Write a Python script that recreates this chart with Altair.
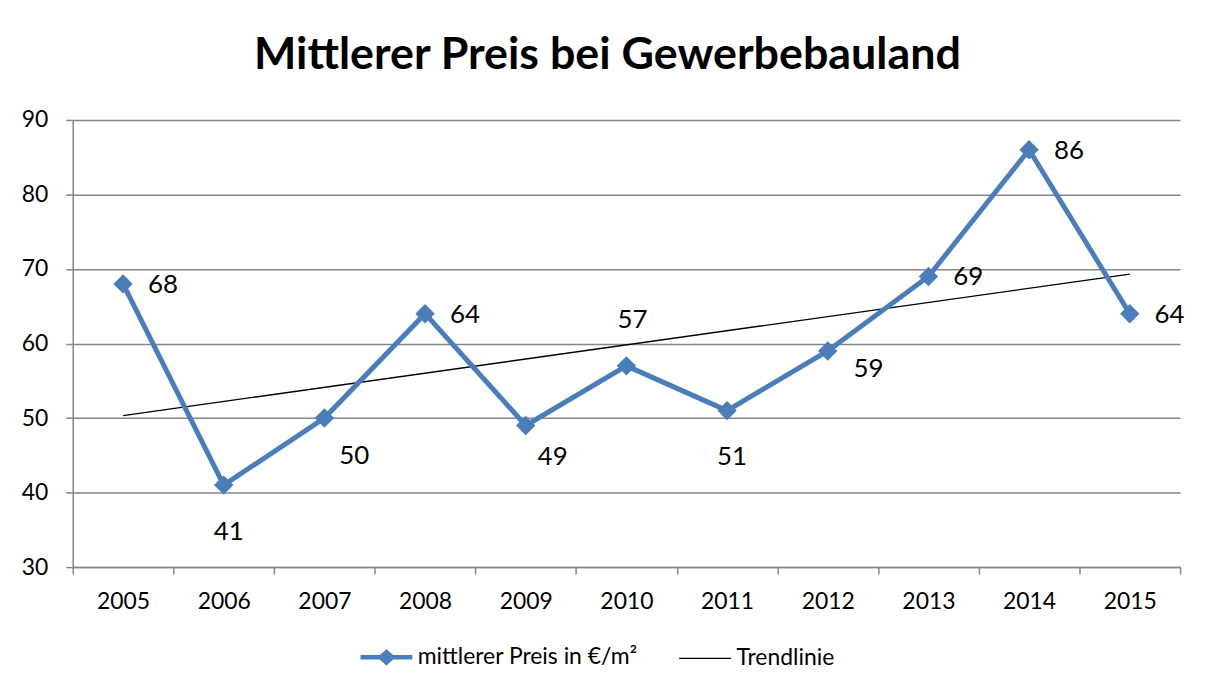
import altair as alt
import pandas as pd

# ---- data ----
years = [2005, 2006, 2007, 2008, 2009, 2010, 2011, 2012, 2013, 2014, 2015]
prices = [68, 41, 50, 64, 49, 57, 51, 59, 69, 86, 64]
y_ticks = [30, 40, 50, 60, 70, 80, 90]
series_name = "mittlerer Preis in €/m²"
trend_name = "Trendlinie"
title_text = "Mittlerer Preis bei Gewerbebauland"

# ---- style ----
BLUE = "#4A7EBB"
GRAY = "#868686"
FONT = "Lato"

# label offsets (dx, dy) in pixels relative to the marker, per group of years
label_offsets = [
    ((40, 1), [2005, 2008, 2013, 2014, 2015]),
    ((5, 47), [2006, 2011]),
    ((6, -46), [2010]),
    ((30, 38), [2007]),
    ((27, 32), [2009]),
    ((41, 18), [2012]),
]

df = pd.DataFrame({"Jahr": years, "Preis": prices, "Serie": [series_name] * len(years)})

color_scale = alt.Scale(domain=[series_name, trend_name], range=[BLUE, "black"])

is_trend = f"datum.value === '{trend_name}'"
legend = alt.Legend(
    title=None,
    orient="none",
    legendX=287,
    legendY=528,
    direction="horizontal",
    symbolType={"expr": f"{is_trend} ? 'M-1,0H1' : 'M-1,0H1M-0.23,0L0,-0.2L0.23,0L0,0.2Z'"},
    symbolFillColor={"expr": f"{is_trend} ? 'transparent' : '{BLUE}'"},
    symbolStrokeWidth={"expr": f"{is_trend} ? 1.3 : 4.5"},
    symbolSize=2704,
    symbolOffset=16.5,
    symbolOpacity=1,
    labelFont=FONT,
    labelFontSize=23,
    labelColor="black",
    labelOffset=20,
    labelLimit=0,
    columnPadding=38,
    padding=0,
)

x_band = alt.X(
    "Jahr:O",
    scale=alt.Scale(type="band", paddingInner=0, paddingOuter=0),
    bandPosition=0.5,
    axis=alt.Axis(title=None, labelAngle=0, tickBand="extent", tickSize=7,
                  labelPadding=17, grid=False),
)
y_enc = alt.Y(
    "Preis:Q",
    scale=alt.Scale(domain=[30, 90], nice=False, zero=False),
    axis=alt.Axis(title=None, values=y_ticks, tickSize=7, labelPadding=18, grid=True),
)

base = alt.Chart(df)

line = base.mark_line(strokeWidth=5).encode(
    x=x_band, y=y_enc,
    color=alt.Color("Serie:N", scale=color_scale, legend=legend),
)
points = base.mark_point(shape="diamond", filled=True, size=380, opacity=1, color=BLUE).encode(
    x=x_band, y=y_enc
)

texts = []
for (dx, dy), yrs in label_offsets:
    flt = alt.FieldOneOfPredicate(field="Jahr", oneOf=yrs)
    texts.append(
        base.transform_filter(flt)
        .mark_text(font=FONT, fontSize=26, color="black", align="center",
                   baseline="middle", dx=dx, dy=dy)
        .encode(x=x_band, y=y_enc, text=alt.Text("Preis:Q"))
    )

trend = (
    base.transform_regression("Jahr", "Preis")
    .transform_calculate(Serie=f"'{trend_name}'")
    .mark_line(strokeWidth=1.3)
    .encode(
        x=alt.X("Jahr:Q", scale=alt.Scale(domain=[2004.5, 2015.5], nice=False, zero=False), axis=None),
        y=alt.Y("Preis:Q"),
        color=alt.Color("Serie:N", scale=color_scale, legend=legend),
    )
)

chart = (
    alt.layer(trend, alt.layer(line, points, *texts))
    .resolve_scale(x="independent")
    .properties(
        width=1112,
        height=449,
        title=alt.TitleParams(
            text=title_text, font=FONT, fontSize=45, fontWeight="bold", color="black",
            anchor="middle", frame="group", offset=51, baseline="alphabetic", dx=-19, dy=56,
        ),
        autosize=alt.AutoSizeParams(type="none"),
        padding={"left": 65, "top": 111, "right": 20, "bottom": 118},
    )
    .configure_view(stroke=None)
    .configure_axis(
        labelFont=FONT, labelFontSize=23, labelColor="black",
        domainColor=GRAY, tickColor=GRAY, gridColor=GRAY,
        domainWidth=1.5, tickWidth=1.5, gridWidth=1.5,
    )
)

chart.save("out.html", embed_options={"renderer": "svg", "actions": False})
